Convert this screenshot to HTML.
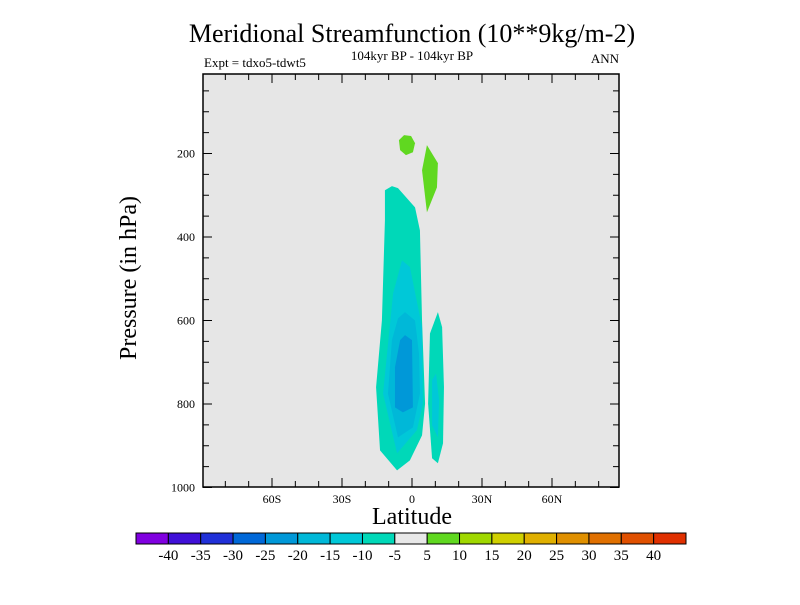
<!DOCTYPE html>
<html><head><meta charset="utf-8"><style>
body{margin:0;background:#fff;}
svg text{font-family:"Liberation Serif",serif;fill:#000;}
</style></head><body>
<svg width="800" height="600" xmlns="http://www.w3.org/2000/svg">
<text x="412" y="42" font-size="26" text-anchor="middle">Meridional Streamfunction (10**9kg/m-2)</text>
<text x="412" y="60" font-size="13" text-anchor="middle">104kyr BP - 104kyr BP</text>
<text x="204" y="67" font-size="13">Expt = tdxo5-tdwt5</text>
<text x="619" y="63" font-size="13" text-anchor="end">ANN</text>
<rect x="203" y="74" width="416" height="413" fill="#e6e6e6"/>
<g id="contours"></g>
<rect x="203" y="74" width="416" height="413" fill="none" stroke="#000" stroke-width="1.5"/>
<g id="axes"></g>
<text x="412" y="524" font-size="24" text-anchor="middle">Latitude</text>
<text transform="translate(136,278) rotate(-90)" font-size="24" text-anchor="middle">Pressure (in hPa)</text>
<g id="colorbar"></g>
</svg>
<script>
const NS="http://www.w3.org/2000/svg";
const latTicks=[-60,-30,0,30,60];
const latTickLabels=["60S","30S","0","30N","60N"];
const pTicks=[200,400,600,800,1000];
const levelLabels=[-40,-35,-30,-25,-20,-15,-10,-5,5,10,15,20,25,30,35,40];
const levelColors=["#8000e0","#4010d8","#2030d8","#0068d8","#0098d8","#00b8d8","#00c8d8","#00d8b8","#e8e8e8","#60d820","#a0d800","#d0d000","#e0b000","#e09000","#e07000","#e05000","#e03000"];
// contour regions: [lat, pressure] points
const regionOuterMain=[[-11.6,288],[-8.6,278],[-6,283],[1.3,329],[3.4,384],[4.3,600],[5.6,799],[4.3,875],[-0.9,935],[-6.4,959],[-13.7,911],[-15.4,760],[-12.9,600],[-11.6,360]];
const regionMid10=[[-4.3,456],[-0.9,472],[4.3,616],[4.7,799],[2.1,863],[-6.4,918],[-12.4,775],[-8.1,535]];
const regionMid15=[[-3,580],[1.3,600],[3,679],[3.4,775],[0.4,856],[-6,880],[-10.3,775],[-8.6,647],[-6,595]];
const regionCore20=[[-3,635],[0,647],[0.4,808],[-3.9,820],[-7.3,808],[-7.3,712],[-5.1,647]];
const regionRightOuter=[[11.1,580],[12.9,616],[13.7,760],[13.3,894],[11.1,942],[8.6,930],[6.9,799],[7.7,631]];
const regionRightInner=[[10.3,727],[11.6,791],[11.1,880],[8.6,851],[8.6,743]];
const regionGreenBlob=[[-5.6,168],[-3.4,156],[-0.4,158],[1.3,175],[0.4,197],[-2.6,204],[-5.1,192]];
const regionGreenSpike=[[6.4,180],[11.1,223],[10.7,281],[6.4,341],[4.3,240]];
const regions=[[regionOuterMain,7,"contour-minus5"],[regionMid10,6,"contour-minus10"],[regionMid15,5,"contour-minus15"],[regionCore20,4,"contour-minus20"],[regionRightOuter,7,"contour-right-minus5"],[regionRightInner,6,"contour-right-minus10"],[regionGreenBlob,9,"contour-plus5-blob"],[regionGreenSpike,9,"contour-plus5-spike"]];
const X=lat=>412+lat*70/30;
const Y=p=>70+p*0.4175;
function mk(tag,attrs,parent){const e=document.createElementNS(NS,tag);for(const k in attrs)e.setAttribute(k,attrs[k]);parent.appendChild(e);return e;}
const cg=document.getElementById('contours');
regions.forEach(r=>{
  const el=mk('polygon',{points:r[0].map(q=>X(q[0])+','+Y(q[1])).join(' '),fill:levelColors[r[1]]},cg);
  
  
});
const ax=document.getElementById('axes');
for(let lat=-80;lat<=80;lat+=10){
  const major=lat%30===0;const len=major?9:6;
  mk('line',{x1:X(lat),x2:X(lat),y1:487,y2:487-len,stroke:'#000'},ax);
  mk('line',{x1:X(lat),x2:X(lat),y1:74,y2:74+len,stroke:'#000'},ax);
}
latTicks.forEach((l,i)=>{const t=mk('text',{x:X(l),y:503,'font-size':12,'text-anchor':'middle'},ax);t.textContent=latTickLabels[i];

});
for(let p=50;p<=1000;p+=50){
  const major=p%200===0;const len=major?9:6;
  mk('line',{x1:203,x2:203+len,y1:Y(p),y2:Y(p),stroke:'#000'},ax);
  mk('line',{x1:619,x2:619-len,y1:Y(p),y2:Y(p),stroke:'#000'},ax);
}
pTicks.forEach(p=>{const t=mk('text',{x:195,y:Y(p)+4,'font-size':12,'text-anchor':'end'},ax);t.textContent=p;

});
const cb=document.getElementById('colorbar');
const bx=136,bw=550/levelColors.length;
levelColors.forEach((c,i)=>{const r=mk('rect',{x:bx+i*bw,y:533,width:bw,height:11,fill:c,stroke:'#000','stroke-width':1},cb);

});
levelLabels.forEach((v,i)=>{const t=mk('text',{x:bx+(i+1)*bw,y:560,'font-size':15,'text-anchor':'middle'},cb);t.textContent=v;

});
</script>
</body></html>
